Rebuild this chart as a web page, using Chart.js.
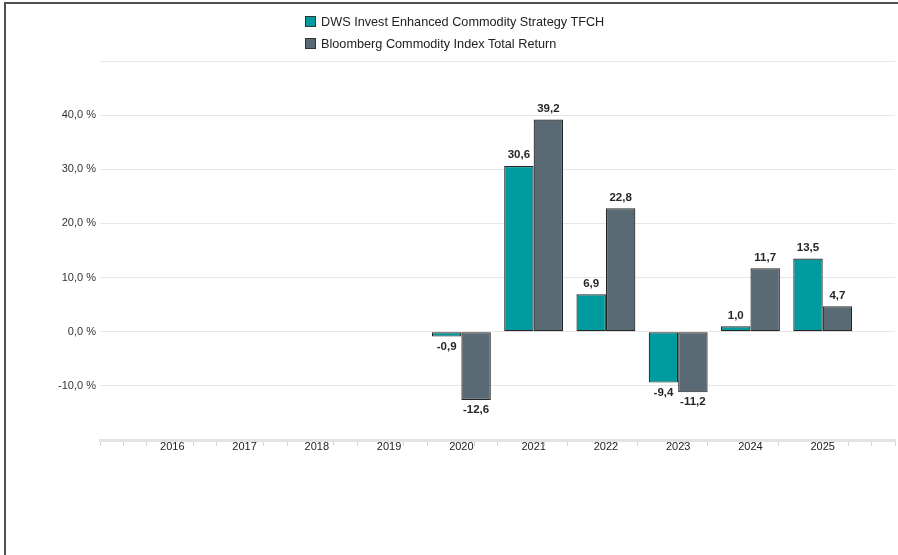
<!DOCTYPE html>
<html>
<head>
<meta charset="utf-8">
<script src="https://cdn.jsdelivr.net/npm/chart.js@4"></script>
<style>
    html, body { margin: 0; padding: 0; background: #ffffff; overflow: hidden; width: 898px; height: 555px; }
    #frame { position: absolute; left: 4px; top: 2px; width: 892px; height: 553px;
             border-top: 2px solid #505050; border-left: 2px solid #505050; }
    #wrap { position: absolute; left: 0; top: 0; width: 898px; height: 555px; }
    #legend { position: absolute; left: 305px; top: 15px; font-family: "Liberation Sans", Arial, sans-serif;
              font-size: 12.7px; color: #222222; }
    .item { height: 22px; line-height: 14px; white-space: nowrap; }
    .box { display: inline-block; width: 9px; height: 9px; border: 1px solid #333333;
           vertical-align: -1px; margin-right: 5px; }
</style>
</head>
<body>
<div id="frame"></div>
<div id="wrap"><canvas id="chartCanvas"></canvas></div>
<div id="legend"></div>
<script>
"use strict";

// Chart values
const years = ["2016", "2017", "2018", "2019", "2020", "2021", "2022", "2023", "2024", "2025"];
const fundName = "DWS Invest Enhanced Commodity Strategy TFCH";
const indexName = "Bloomberg Commodity Index Total Return";
const fundValues = [null, null, null, null, -0.9, 30.6, 6.9, -9.4, 1.0, 13.5];
const indexValues = [null, null, null, null, -12.6, 39.2, 22.8, -11.2, 11.7, 4.7];

const fundColor = "#009b9e";
const indexColor = "#5a6a75";

// One empty slot on each side, as in the original
const labels = [""].concat(years, [""]);
const pad = (arr) => [null].concat(arr, [null]);

function formatNum(v) {
    return v.toFixed(1).replace(".", ",");
}

// Value labels above / below each bar
const valueLabels = {
    id: "valueLabels",
    afterDatasetsDraw(chart) {
        const ctx = chart.ctx;
        ctx.save();
        ctx.font = "bold 11.5px 'Liberation Sans', Arial, sans-serif";
        ctx.fillStyle = "#262626";
        ctx.textAlign = "center";
        chart.data.datasets.forEach((ds, di) => {
            const meta = chart.getDatasetMeta(di);
            meta.data.forEach((bar, i) => {
                const v = ds.data[i];
                if (v === null || v === undefined) return;
                if (v >= 0) {
                    ctx.textBaseline = "bottom";
                    ctx.fillText(formatNum(v), bar.x, bar.y - 5);
                } else {
                    ctx.textBaseline = "top";
                    ctx.fillText(formatNum(v), bar.x, bar.y + 4);
                }
            });
        });
        ctx.restore();
    }
};

const config = {
    type: "bar",
    data: {
        labels: labels,
        datasets: [{
            label: fundName,
            data: pad(fundValues),
            backgroundColor: fundColor,
            borderColor: "#262626",
            borderWidth: 1.2,
            borderSkipped: false
        },
        {
            label: indexName,
            data: pad(indexValues),
            backgroundColor: indexColor,
            borderColor: "#262626",
            borderWidth: 1.2,
            borderSkipped: false
        }]
    },
    options: {
        responsive: true,
        maintainAspectRatio: false,
        animation: false,
        layout: { padding: { left: 0, top: 61, right: 3, bottom: 0 } },
        categoryPercentage: 0.815,
        barPercentage: 1.0,
        plugins: {
            legend: { display: false },
            tooltip: { enabled: false }
        },
        scales: {
            // Year labels
            x: {
                type: "category",
                offset: false,
                weight: 1,
                afterFit: (s) => { s.height = 115; },
                border: { display: false },
                grid: { display: false, drawTicks: false },
                ticks: {
                    autoSkip: false,
                    maxRotation: 0,
                    padding: 0,
                    color: "#222222",
                    font: { family: "'Liberation Sans', Arial, sans-serif", size: 11 }
                }
            },
            // Minor ticks at thirds of a year (no height of its own)
            minor: {
                type: "linear",
                position: "bottom",
                weight: 0,
                min: 0,
                max: 33,
                afterFit: (s) => { s.height = 0; },
                border: { display: true, color: "#e3e3e3", width: 3 },
                grid: {
                    drawOnChartArea: false,
                    tickLength: 6,
                    tickWidth: 1,
                    color: (c) => {
                        const v = c.tick ? c.tick.value : 0;
                        return (v % 3 === 0 && v > 0 && v < 33) ? "rgba(0,0,0,0)" : "#d6d6d6";
                    }
                },
                ticks: {
                    stepSize: 1,
                    autoSkip: false,
                    display: false
                }
            },
            y: {
                min: -20,
                max: 50,
                afterFit: (s) => { s.width = 100; },
                border: { display: false },
                grid: { color: "#e6e6e6", lineWidth: 1, drawTicks: false },
                ticks: {
                    stepSize: 10,
                    padding: 4,
                    color: "#333333",
                    font: { family: "'Liberation Sans', Arial, sans-serif", size: 11 },
                    callback: (v) => (v === 50 || v === -20) ? "" : formatNum(v) + " %"
                }
            }
        }
    },
    plugins: [valueLabels]
};

const ctx = document.getElementById("chartCanvas").getContext("2d");
const chart = new Chart(ctx, config);

// Legend as stacked html rows
const legendDiv = document.getElementById("legend");
chart.data.datasets.forEach((ds) => {
    const row = document.createElement("div");
    row.className = "item";
    const box = document.createElement("span");
    box.className = "box";
    box.style.background = ds.backgroundColor;
    row.appendChild(box);
    row.appendChild(document.createTextNode(ds.label));
    legendDiv.appendChild(row);
});
</script>
</body>
</html>
